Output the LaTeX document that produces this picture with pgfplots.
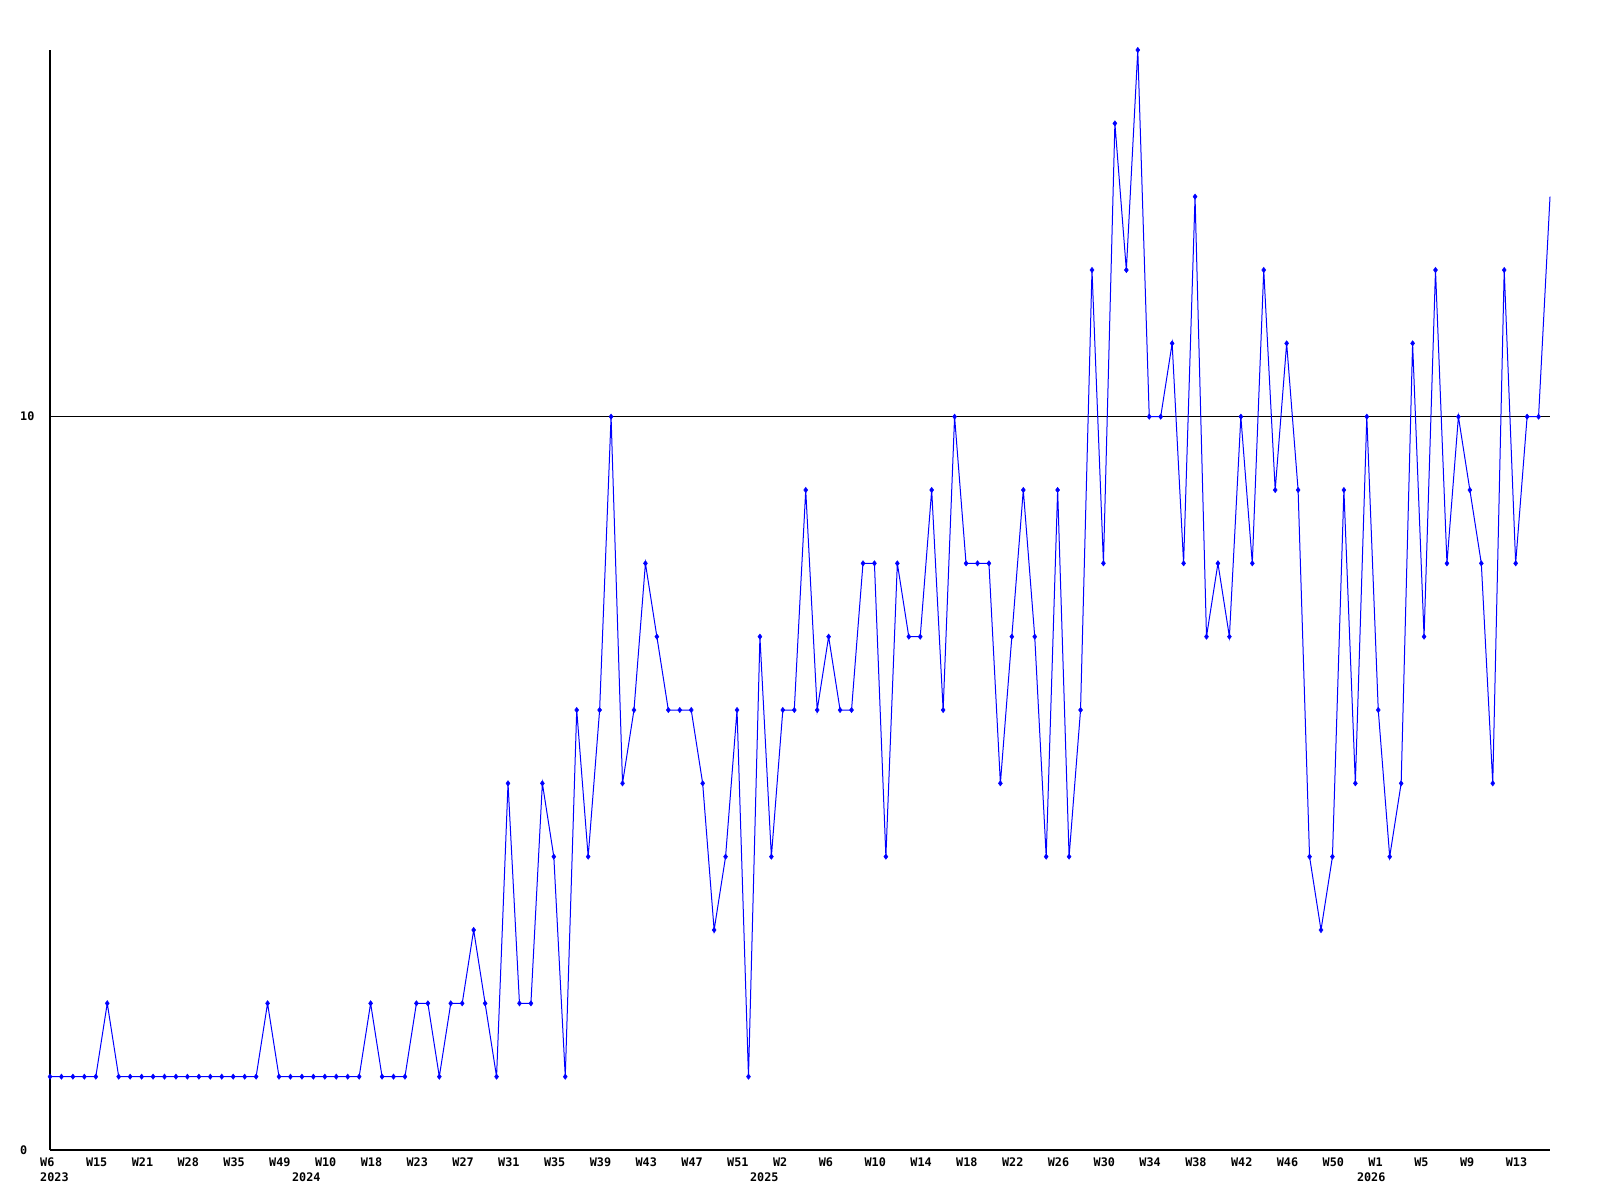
\documentclass[border=0pt]{standalone}
\usepackage{fontspec}
\usepackage{pgfplots}
\usepackage{pgfplotstable}
\pgfplotsset{compat=1.18}
\newfontfamily\chartfont{DejaVu Sans Mono}

% weekly counts, one row per sampled week (plotted at equal spacing)
\pgfplotstableread{
idx count
0 1
1 1
2 1
3 1
4 1
5 2
6 1
7 1
8 1
9 1
10 1
11 1
12 1
13 1
14 1
15 1
16 1
17 1
18 1
19 2
20 1
21 1
22 1
23 1
24 1
25 1
26 1
27 1
28 2
29 1
30 1
31 1
32 2
33 2
34 1
35 2
36 2
37 3
38 2
39 1
40 5
41 2
42 2
43 5
44 4
45 1
46 6
47 4
48 6
49 10
50 5
51 6
52 8
53 7
54 6
55 6
56 6
57 5
58 3
59 4
60 6
61 1
62 7
63 4
64 6
65 6
66 9
67 6
68 7
69 6
70 6
71 8
72 8
73 4
74 8
75 7
76 7
77 9
78 6
79 10
80 8
81 8
82 8
83 5
84 7
85 9
86 7
87 4
88 9
89 4
90 6
91 12
92 8
93 14
94 12
95 15
96 10
97 10
98 11
99 8
100 13
101 7
102 8
103 7
104 10
105 8
106 12
107 9
108 11
109 9
110 4
111 3
112 4
113 9
114 5
115 10
116 6
117 4
118 5
119 11
120 7
121 12
122 8
123 10
124 9
125 8
126 5
127 12
128 8
129 10
130 10
131 13
}\weekly

\begin{document}
\begin{tikzpicture}
\useasboundingbox (0,0) rectangle (1600pt,1200pt);
\begin{axis}[
    at={(50pt,50pt)}, anchor=south west,
    scale only axis, width=1500pt, height=1100pt,
    xmin=0, xmax=131, ymin=0, ymax=15,
    axis lines=left,
    axis line style={-, black, line width=1.2pt},
    clip=false,
    major tick length=0pt,
    xtick={0,4,...,128},
    xticklabels={W6,W15,W21,W28,W35,W49,W10,W18,W23,W27,W31,W35,W39,W43,W47,W51,
                 W2,W6,W10,W14,W18,W22,W26,W30,W34,W38,W42,W46,W50,W1,W5,W9,W13},
    ytick={0,10}, yticklabels={0,10},
    ymajorgrids, grid style={black, line width=1pt},
    tick label style={font=\chartfont\bfseries\fontsize{11.8}{12}\selectfont, inner sep=0pt},
    xticklabel style={anchor=north west, xshift=-10pt, yshift=-8pt},
    yticklabel style={anchor=west, xshift=-30pt},
    extra x ticks={0,22,62,115},
    extra x tick labels={2023,2024,2025,2026},
    extra x tick style={xticklabel style={yshift=-15pt}},
]
\addplot[color={rgb,255:red,0;green,0;blue,255}, line width=1pt, no marks]
    table[x=idx, y=count] {\weekly};
\addplot[color={rgb,255:red,0;green,0;blue,255}, only marks, mark=diamond*, mark size=2.7pt,
    restrict x to domain=0:130]
    table[x=idx, y=count] {\weekly};
\end{axis}
\end{tikzpicture}
\end{document}
